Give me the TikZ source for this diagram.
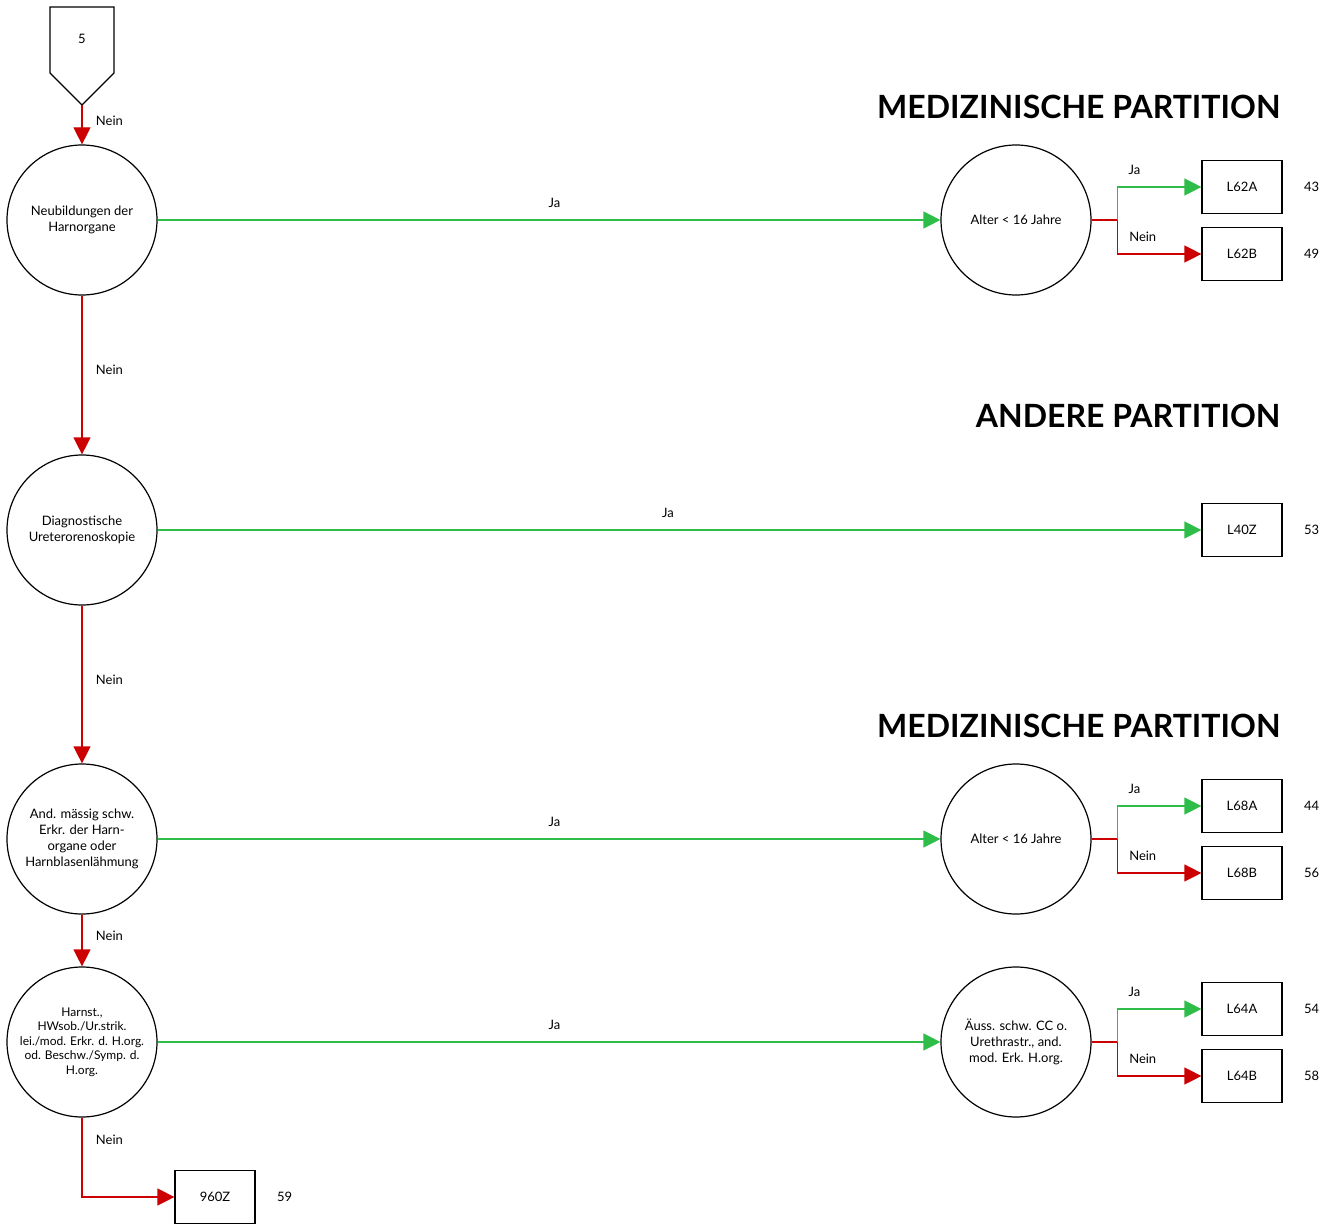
\documentclass[tikz,border=0pt]{standalone}
\usepackage{fontspec}
\setmainfont{Lato}
\usetikzlibrary{arrows.meta, positioning}

\definecolor{jagreen}{RGB}{46,189,72}
\definecolor{neinred}{RGB}{204,0,0}

\tikzset{
  decision/.style={draw, circle, minimum size=150pt, inner sep=0pt, line width=1.2pt, align=center, font=\fontsize{13}{16}\selectfont},
  drg/.style={draw, minimum width=80pt, minimum height=53pt, line width=1.2pt, font=\fontsize{13}{16}\selectfont},
  lbl/.style={font=\fontsize{13}{16}\selectfont},
  partition/.style={font=\fontsize{32}{38}\selectfont\bfseries, anchor=east},
  yes/.style={draw=jagreen, line width=1.2pt, -{Triangle[length=17pt, width=17pt]}},
  no/.style={draw=neinred, line width=1.2pt, -{Triangle[length=17pt, width=17pt]}}
}

\begin{document}
\begin{tikzpicture}[x=1pt, y=-1pt]
  \useasboundingbox (0,0) rectangle (1335,1225);

  % Start
  \draw [line width=1.2pt] (50,7) -- (114,7) -- (114,73) -- (82,105) -- (50,73) -- cycle;
  \node [lbl] (five) at (82,39) {5};
  \coordinate (start) at (82,105);

  % Titles
  \node [partition] (part1) at (1284,107) {MEDIZINISCHE PARTITION};
  \node [partition] (part2) at (1284,416) {ANDERE PARTITION};
  \node [partition] (part3) at (1284,726) {MEDIZINISCHE PARTITION};

  % Decisions
  \node [decision] (neub) at (82,220) {Neubildungen der\\Harnorgane};
  \node [decision] (diag) at (82,530) {Diagnostische\\Ureterorenoskopie};
  \node [decision] (andm) at (82,839) {And. mässig schw.\\Erkr. der Harn-\\organe oder\\Harnblasenlähmung};
  \node [decision, font=\fontsize{12}{14.5}\selectfont] (harn) at (82,1042) {Harnst.,\\HWsob./Ur.strik.\\lei./mod. Erkr. d. H.org.\\od. Beschw./Symp. d.\\H.org.};
  \node [decision] (alt1) at (1016,220) {Alter < 16 Jahre};
  \node [decision] (alt2) at (1016,839) {Alter < 16 Jahre};
  \node [decision] (auss) at (1016,1042) {Äuss. schw. CC o.\\Urethrastr., and.\\mod. Erk. H.org.};

  % DRGs
  \node [drg] (l62a) at (1242,187) {L62A};
  \node [drg] (l62b) at (1242,254) {L62B};
  \node [drg] (l40z) at (1242,530) {L40Z};
  \node [drg] (l68a) at (1242,806) {L68A};
  \node [drg] (l68b) at (1242,873) {L68B};
  \node [drg] (l64a) at (1242,1009) {L64A};
  \node [drg] (l64b) at (1242,1076) {L64B};
  \node [drg] (z960) at (215,1197) {960Z};

  \node [lbl, right=18pt of l62a] (n43) {43};
  \node [lbl, right=18pt of l62b] (n49) {49};
  \node [lbl, right=18pt of l40z] (n53) {53};
  \node [lbl, right=18pt of l68a] (n44) {44};
  \node [lbl, right=18pt of l68b] (n56) {56};
  \node [lbl, right=18pt of l64a] (n54) {54};
  \node [lbl, right=18pt of l64b] (n58) {58};
  \node [lbl, right=18pt of z960] (n59) {59};

  % Nein
  \draw [no] (start) -- node [lbl, pos=0.4, right=10pt] {Nein} (neub);
  \draw [no] (neub) -- node [lbl, pos=0.47, right=10pt] {Nein} (diag);
  \draw [no] (diag) -- node [lbl, pos=0.47, right=10pt] {Nein} (andm);
  \draw [no] (andm) -- node [lbl, pos=0.4, right=10pt] {Nein} (harn);
  \draw [no] (harn) |- node [lbl, pos=0.14, right=10pt] {Nein} (z960);

  % Ja
  \draw [yes] (neub) -- node [lbl, pos=0.507, above=8pt] {Ja} (alt1);
  \draw [yes] (diag) -- node [lbl, pos=0.489, above=8pt] {Ja} (l40z);
  \draw [yes] (andm) -- node [lbl, pos=0.507, above=8pt] {Ja} (alt2);
  \draw [yes] (harn) -- node [lbl, pos=0.507, above=8pt] {Ja} (auss);

  % Alter / CC
  \draw [neinred, line width=1.2pt] (alt1.east) -- ++(26,0) coordinate (b1);
  \draw [yes] (b1) |- node [lbl, pos=0.6, above=8pt] {Ja} (l62a);
  \draw [no] (b1) |- node [lbl, pos=0.65, above=8pt] {Nein} (l62b);

  \draw [neinred, line width=1.2pt] (alt2.east) -- ++(26,0) coordinate (b2);
  \draw [yes] (b2) |- node [lbl, pos=0.6, above=8pt] {Ja} (l68a);
  \draw [no] (b2) |- node [lbl, pos=0.65, above=8pt] {Nein} (l68b);

  \draw [neinred, line width=1.2pt] (auss.east) -- ++(26,0) coordinate (b3);
  \draw [yes] (b3) |- node [lbl, pos=0.6, above=8pt] {Ja} (l64a);
  \draw [no] (b3) |- node [lbl, pos=0.65, above=8pt] {Nein} (l64b);
\end{tikzpicture}
\end{document}
